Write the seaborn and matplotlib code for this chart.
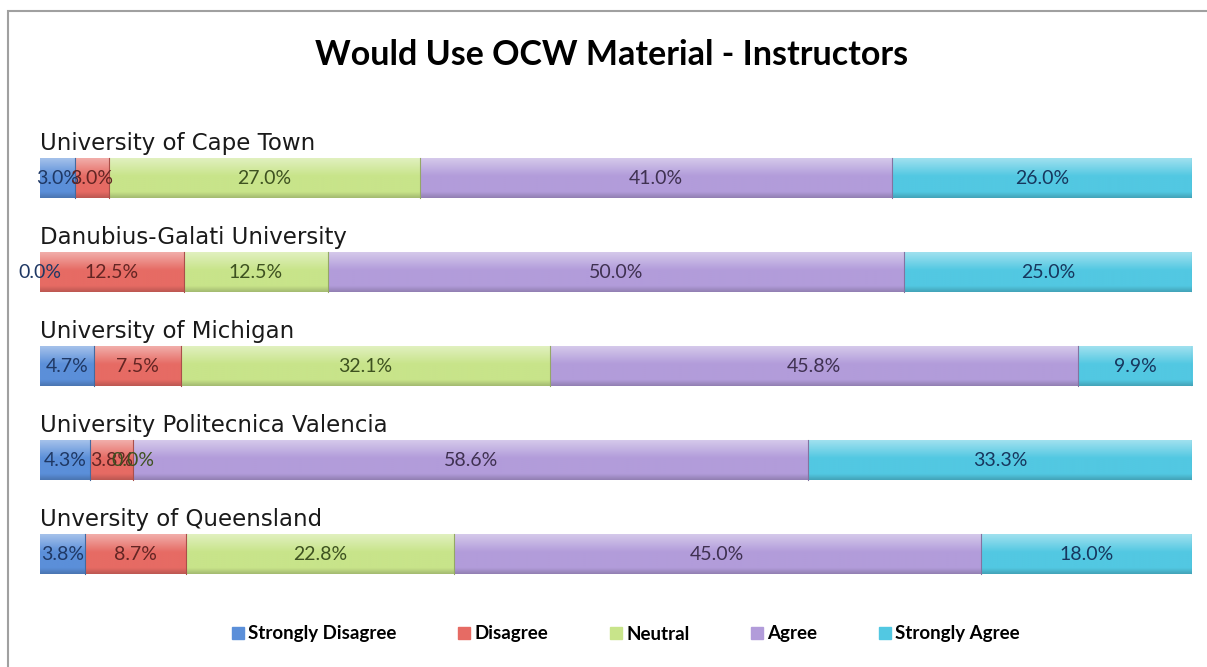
import numpy as np
import pandas as pd
import matplotlib
matplotlib.use("Agg")
import matplotlib.pyplot as plt
import seaborn as sns
from matplotlib.colors import LinearSegmentedColormap, to_rgb
from matplotlib.lines import Line2D
from matplotlib.patches import Rectangle

# Données
universities = ["University of Cape Town", "Danubius-Galati University",
                "University of Michigan", "University Politecnica Valencia",
                "Unversity of Queensland"]
responses = ["Strongly Disagree", "Disagree", "Neutral", "Agree", "Strongly Agree"]
strongly_disagree = [3.0, 0.0, 4.7, 4.3, 3.8]
disagree = [3.0, 12.5, 7.5, 3.8, 8.7]
neutral = [27.0, 12.5, 32.1, 0.0, 22.8]
agree = [41.0, 50.0, 45.8, 58.6, 45.0]
strongly_agree = [26.0, 25.0, 9.9, 33.3, 18.0]

colors = ["#5B8FD9", "#E66B64", "#C8E48A", "#B29CDA", "#52C8E2"]
text_colors = ["#1F3864", "#632523", "#3E5220", "#3F3151", "#17375E"]

raw = pd.DataFrame({"Strongly Disagree": strongly_disagree, "Disagree": disagree,
                    "Neutral": neutral, "Agree": agree,
                    "Strongly Agree": strongly_agree}, index=universities)
# barres empilées à 100 %
share = raw.div(raw.sum(axis=1), axis=0) * 100
cum = share.cumsum(axis=1)

W, H = 1207, 667
fig = plt.figure(figsize=(W / 100, H / 100), dpi=100)
ax = fig.add_axes([40 / W, 1 - 601 / H, 1152 / W, 470 / H])

bar_h = 0.42
for i in reversed(range(len(responses))):
    sns.barplot(x=cum[responses[i]].values, y=universities, orient="h", ax=ax,
                color=colors[i], saturation=1, width=bar_h, linewidth=0)

# dégradé façon Excel sur chaque segment
grad = np.linspace(0, 1, 60).reshape(-1, 1)
for i, resp in enumerate(responses):
    c = np.array(to_rgb(colors[i]))
    light = c + (1 - c) * 0.45
    dark = c * 0.82
    cmap = LinearSegmentedColormap.from_list(resp, [(0, light), (0.45, c), (0.85, c), (1, dark)])
    for r, uni in enumerate(universities):
        start = cum.iloc[r, i] - share.iloc[r, i]
        end = cum.iloc[r, i]
        if end - start > 0:
            ax.imshow(grad, extent=[start, end, r + bar_h / 2, r - bar_h / 2],
                      aspect="auto", cmap=cmap, zorder=2, interpolation="bilinear")
            ax.plot([end, end], [r - bar_h / 2, r + bar_h / 2], color=dark * 0.9,
                    lw=0.8, zorder=3)
        ax.text((start + end) / 2, r + 0.01, f"{raw.iloc[r, i]:.1f}%",
                ha="center", va="center", fontsize=14, family="Lato",
                color=text_colors[i], zorder=4)

for r, uni in enumerate(universities):
    ax.text(0, r - 0.37, uni, ha="left", va="center", fontsize=16.5,
            family="DejaVu Sans", color="#1a1a1a", clip_on=False)

ax.set_xlim(0, 100)
ax.set_ylim(len(universities) - 0.5, -0.5)
ax.axis("off")

fig.text(612 / W, 1 - 55 / H, "Would Use OCW Material - Instructors",
         ha="center", va="center", fontsize=24.5, fontweight="bold", family="Lato")

handles = [Line2D([], [], marker="s", ls="", markersize=9, markerfacecolor=c,
                  markeredgecolor=c) for c in colors]
fig.legend(handles, responses, loc="center", bbox_to_anchor=(626 / W, 1 - 634 / H),
           ncol=5, frameon=False, handlelength=0.6, handletextpad=0.25,
           columnspacing=3.3, prop={"family": "Lato", "weight": "bold", "size": 13.5})

# cadre gris de la zone du graphique
fig.patches.append(Rectangle((8 / W, -0.1), 2, 1 - 11 / H + 0.1, transform=fig.transFigure,
                             fill=False, edgecolor="#A0A0A0", lw=1.5))

fig.savefig("out.png", dpi=100)
